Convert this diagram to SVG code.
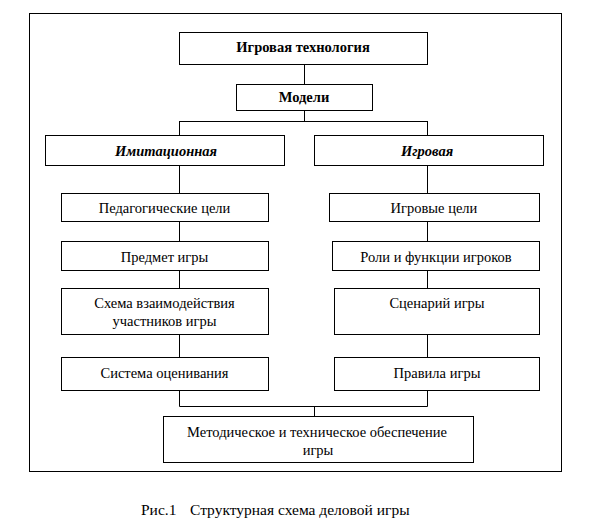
<svg xmlns="http://www.w3.org/2000/svg" width="598" height="526" viewBox="0 0 598 526">
<style>
.box{fill:#fff;stroke:#000;stroke-width:1}
.ln{fill:none;stroke:#000;stroke-width:1}
text{font-family:"Liberation Serif","DejaVu Serif",serif;font-size:14.5px;fill:#000;text-anchor:middle}
.b{font-weight:bold}
.bi{font-weight:bold;font-style:italic}
.cap{font-size:15.5px;text-anchor:start}
</style>
<rect width="598" height="526" fill="#fff"/>
<rect id="frame" class="box" x="29.5" y="13.5" width="532" height="458"/>
<g id="connectors">
<path class="ln" d="M304.5,64 V84 M304.5,110 V121.5 M179.5,121.5 H427.5 M179.5,121 V135 M427.5,121 V135"/>
<path class="ln" d="M179.5,165 V193 M179.5,221 V241 M179.5,270 V288 M179.5,334 V357 M179.5,390 V406.5"/>
<path class="ln" d="M427.5,165 V193 M427.5,221 V241 M427.5,270 V288 M427.5,334 V357 M427.5,390 V406.5"/>
<path class="ln" d="M179.5,406.5 H427.5 M314.5,406 V416"/>
</g>
<g id="n-tech"><rect class="box" x="179.5" y="32.5" width="248" height="32"/><text class="b" x="303" y="52">Игровая технология</text></g>
<g id="n-models"><rect class="box" x="236.5" y="84.5" width="136" height="26"/><text class="b" x="304" y="102">Модели</text></g>
<g id="n-imit"><rect class="box" x="45.5" y="135.5" width="239" height="30"/><text class="bi" x="166" y="155.5">Имитационная</text></g>
<g id="n-game"><rect class="box" x="314.5" y="135.5" width="229" height="30"/><text class="bi" x="427" y="155.5">Игровая</text></g>
<g id="n-ped"><rect class="box" x="61.5" y="193.5" width="207" height="28"/><text x="164.5" y="212.5">Педагогические цели</text></g>
<g id="n-subj"><rect class="box" x="61.5" y="241.5" width="207" height="29"/><text x="164.5" y="262">Предмет игры</text></g>
<g id="n-scheme"><rect class="box" x="61.5" y="288.5" width="207" height="46"/><text x="164.5" y="308">Схема взаимодействия</text><text x="164.5" y="325.5">участников игры</text></g>
<g id="n-eval"><rect class="box" x="61.5" y="357.5" width="207" height="33"/><text x="164.5" y="377.5">Система оценивания</text></g>
<g id="n-goals"><rect class="box" x="329.5" y="193.5" width="210" height="28"/><text x="434" y="212.5">Игровые цели</text></g>
<g id="n-roles"><rect class="box" x="332.5" y="241.5" width="207" height="29"/><text x="436" y="262">Роли и функции игроков</text></g>
<g id="n-scen"><rect class="box" x="334.5" y="288.5" width="205" height="46"/><text x="437" y="308">Сценарий игры</text></g>
<g id="n-rules"><rect class="box" x="334.5" y="357.5" width="205" height="33"/><text x="437" y="377.5">Правила игры</text></g>
<g id="n-support"><rect class="box" x="163.5" y="416.5" width="310" height="46"/><text x="317" y="436.5">Методическое и техническое обеспечение</text><text x="318" y="454.5">игры</text></g>
<text class="cap" x="141" y="514.5">Рис.1</text>
<text class="cap" x="190" y="514.5">Структурная схема деловой игры</text>
</svg>
